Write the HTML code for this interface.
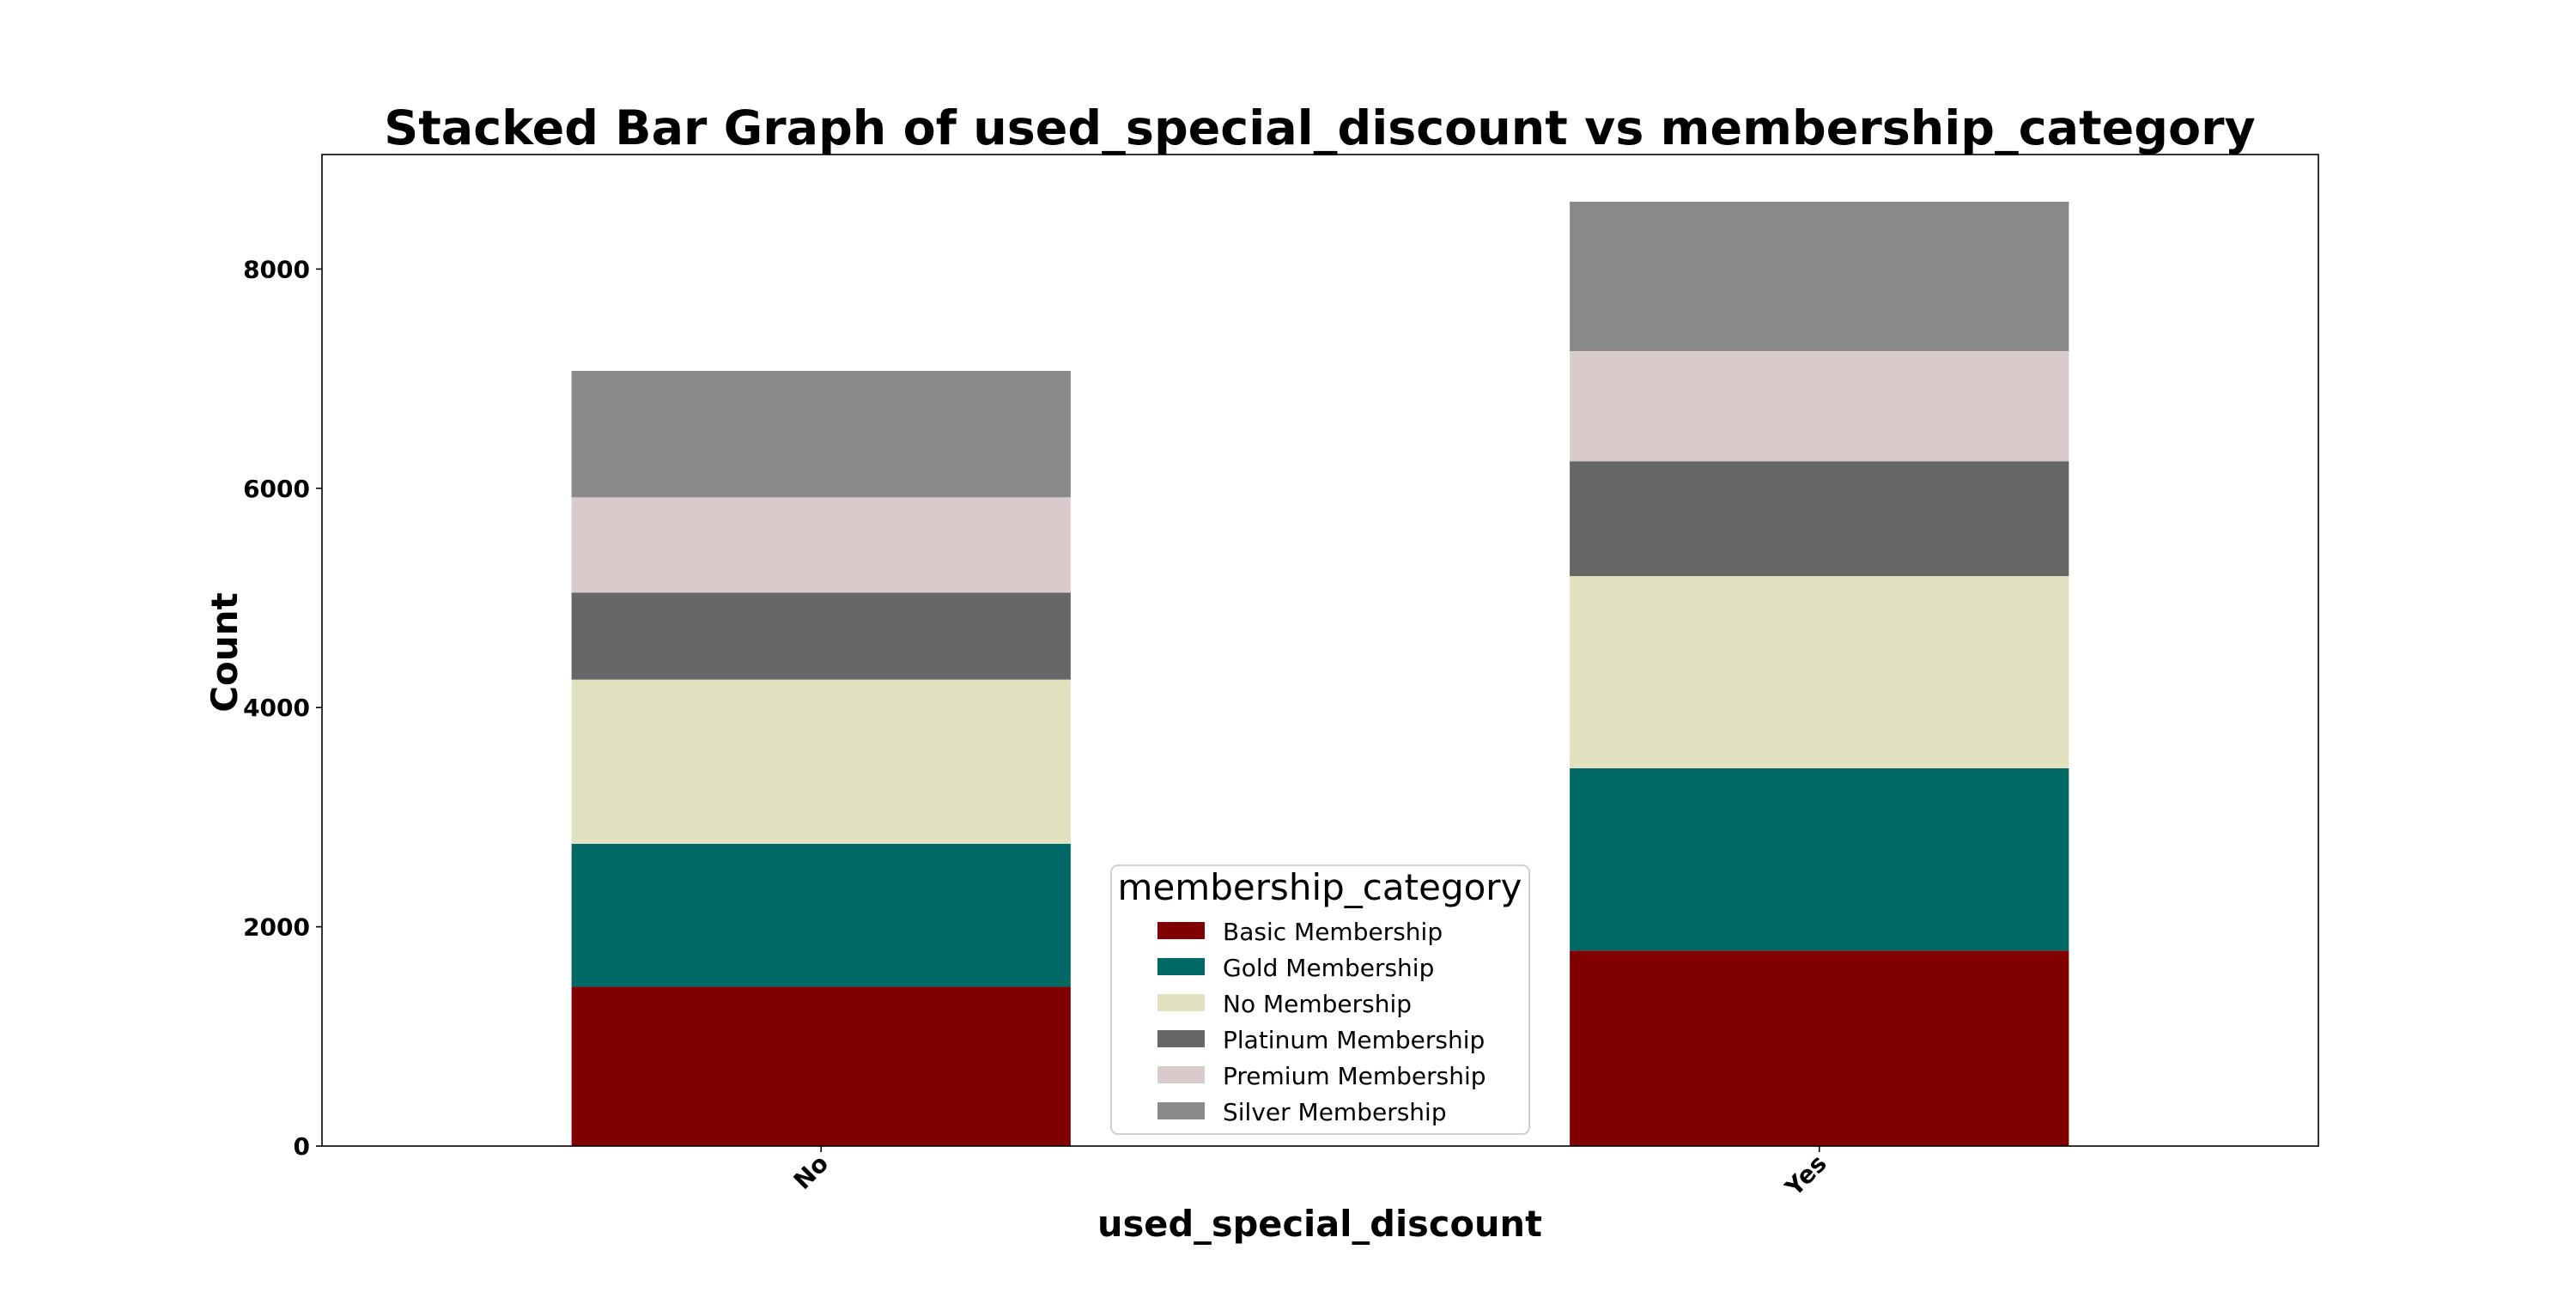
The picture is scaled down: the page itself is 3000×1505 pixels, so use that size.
<!DOCTYPE html>
<html><head><meta charset="utf-8"><style>
html,body{margin:0;padding:0;background:#fff}
svg text{font-family:"DejaVu Sans","Liberation Sans",sans-serif}
</style></head><body>
<svg id="chart" width="3000" height="1500" viewBox="0 0 3000 1500" xmlns="http://www.w3.org/2000/svg">
<rect width="3000" height="1500" fill="#fff"/>
<text x="1537" y="168" font-size="55.5" font-weight="bold" text-anchor="middle">Stacked Bar Graph of used_special_discount vs membership_category</text>
<g id="bars"></g>
<rect x="375" y="180" width="2325" height="1155" fill="none" stroke="#000" stroke-width="1.6"/>
<g id="yaxis"></g>
<g id="xaxis"></g>
<text x="0" y="0" transform="translate(276,760) rotate(-90)" font-size="42" font-weight="bold" text-anchor="middle">Count</text>
<text x="1537" y="1440" font-size="41.5" font-weight="bold" text-anchor="middle">used_special_discount</text>
<g id="legend">
<rect x="1294" y="1008" width="487" height="313" rx="8" fill="#fff" fill-opacity="0.8" stroke="#d0d0d0" stroke-width="2"/>
<text x="1537" y="1048" font-size="42" text-anchor="middle">membership_category</text>
</g>
</svg>
<script>
const categories = ["No", "Yes"];
const seriesNames = ["Basic Membership","Gold Membership","No Membership","Platinum Membership","Premium Membership","Silver Membership"];
const basic = [1453, 1783];
const gold = [1304, 1663];
const noMem = [1498, 1753];
const platinum = [794, 1048];
const premium = [869, 1004];
const silver = [1153, 1363];
const yTicks = [0, 2000, 4000, 6000, 8000];
const colors = ["#800000","#006966","#e1e1c0","#666666","#d9cbcb","#898989"];

const NS = "http://www.w3.org/2000/svg";
const L=375, R=2700, T=180, B=1335;
const series=[basic,gold,noMem,platinum,premium,silver];
let totals=categories.map((c,i)=>series.reduce((s,a)=>s+a[i],0));
const yMax=Math.max(...totals)*1.05;
const y=v=>B-(v/yMax)*(B-T);
const xMin=-0.5, xMax=categories.length-0.5;
const x=v=>L+(v-xMin)/(xMax-xMin)*(R-L);
const bw=(x(0.5)-x(0));
function mk(tag,attrs,parent){const e=document.createElementNS(NS,tag);for(const k in attrs)e.setAttribute(k,attrs[k]);parent.appendChild(e);return e;}
const gb=document.getElementById('bars');
categories.forEach((c,i)=>{
  let base=0;
  series.forEach((s,j)=>{
    const r=mk('rect',{x:x(i)-bw/2,y:y(base+s[i]),width:bw,height:y(base)-y(base+s[i]),fill:colors[j]},gb);
    
    
    base+=s[i];
  });
});
const gy=document.getElementById('yaxis');
yTicks.forEach(t=>{
  const ln=mk('line',{x1:L-7,x2:L,y1:y(t),y2:y(t),stroke:'#000','stroke-width':1.6},gy);
  
  
  const tx=mk('text',{x:L-14,y:y(t)+10,'font-size':28,'font-weight':'bold','text-anchor':'end'},gy);
  tx.textContent=t;
  
  
});
const gx=document.getElementById('xaxis');
categories.forEach((c,i)=>{
  const ln=mk('line',{x1:x(i),x2:x(i),y1:B,y2:B+7,stroke:'#000','stroke-width':1.6},gx);
  
  
  const tx=mk('text',{x:0,y:0,'font-size':28,'font-weight':'bold','text-anchor':'end',transform:`translate(${x(i)+10},${B+22}) rotate(-45)`},gx);
  tx.textContent=c;
  
  
});
const gl=document.getElementById('legend');
seriesNames.forEach((n,j)=>{
  const yy=1085+j*42;
  const r=mk('rect',{x:1348,y:yy-11,width:55,height:20,fill:colors[j]},gl);
  
  
  const t=mk('text',{x:1424,y:yy+10,'font-size':28},gl);
  t.textContent=n;
  
  
});
</script>
</body></html>
